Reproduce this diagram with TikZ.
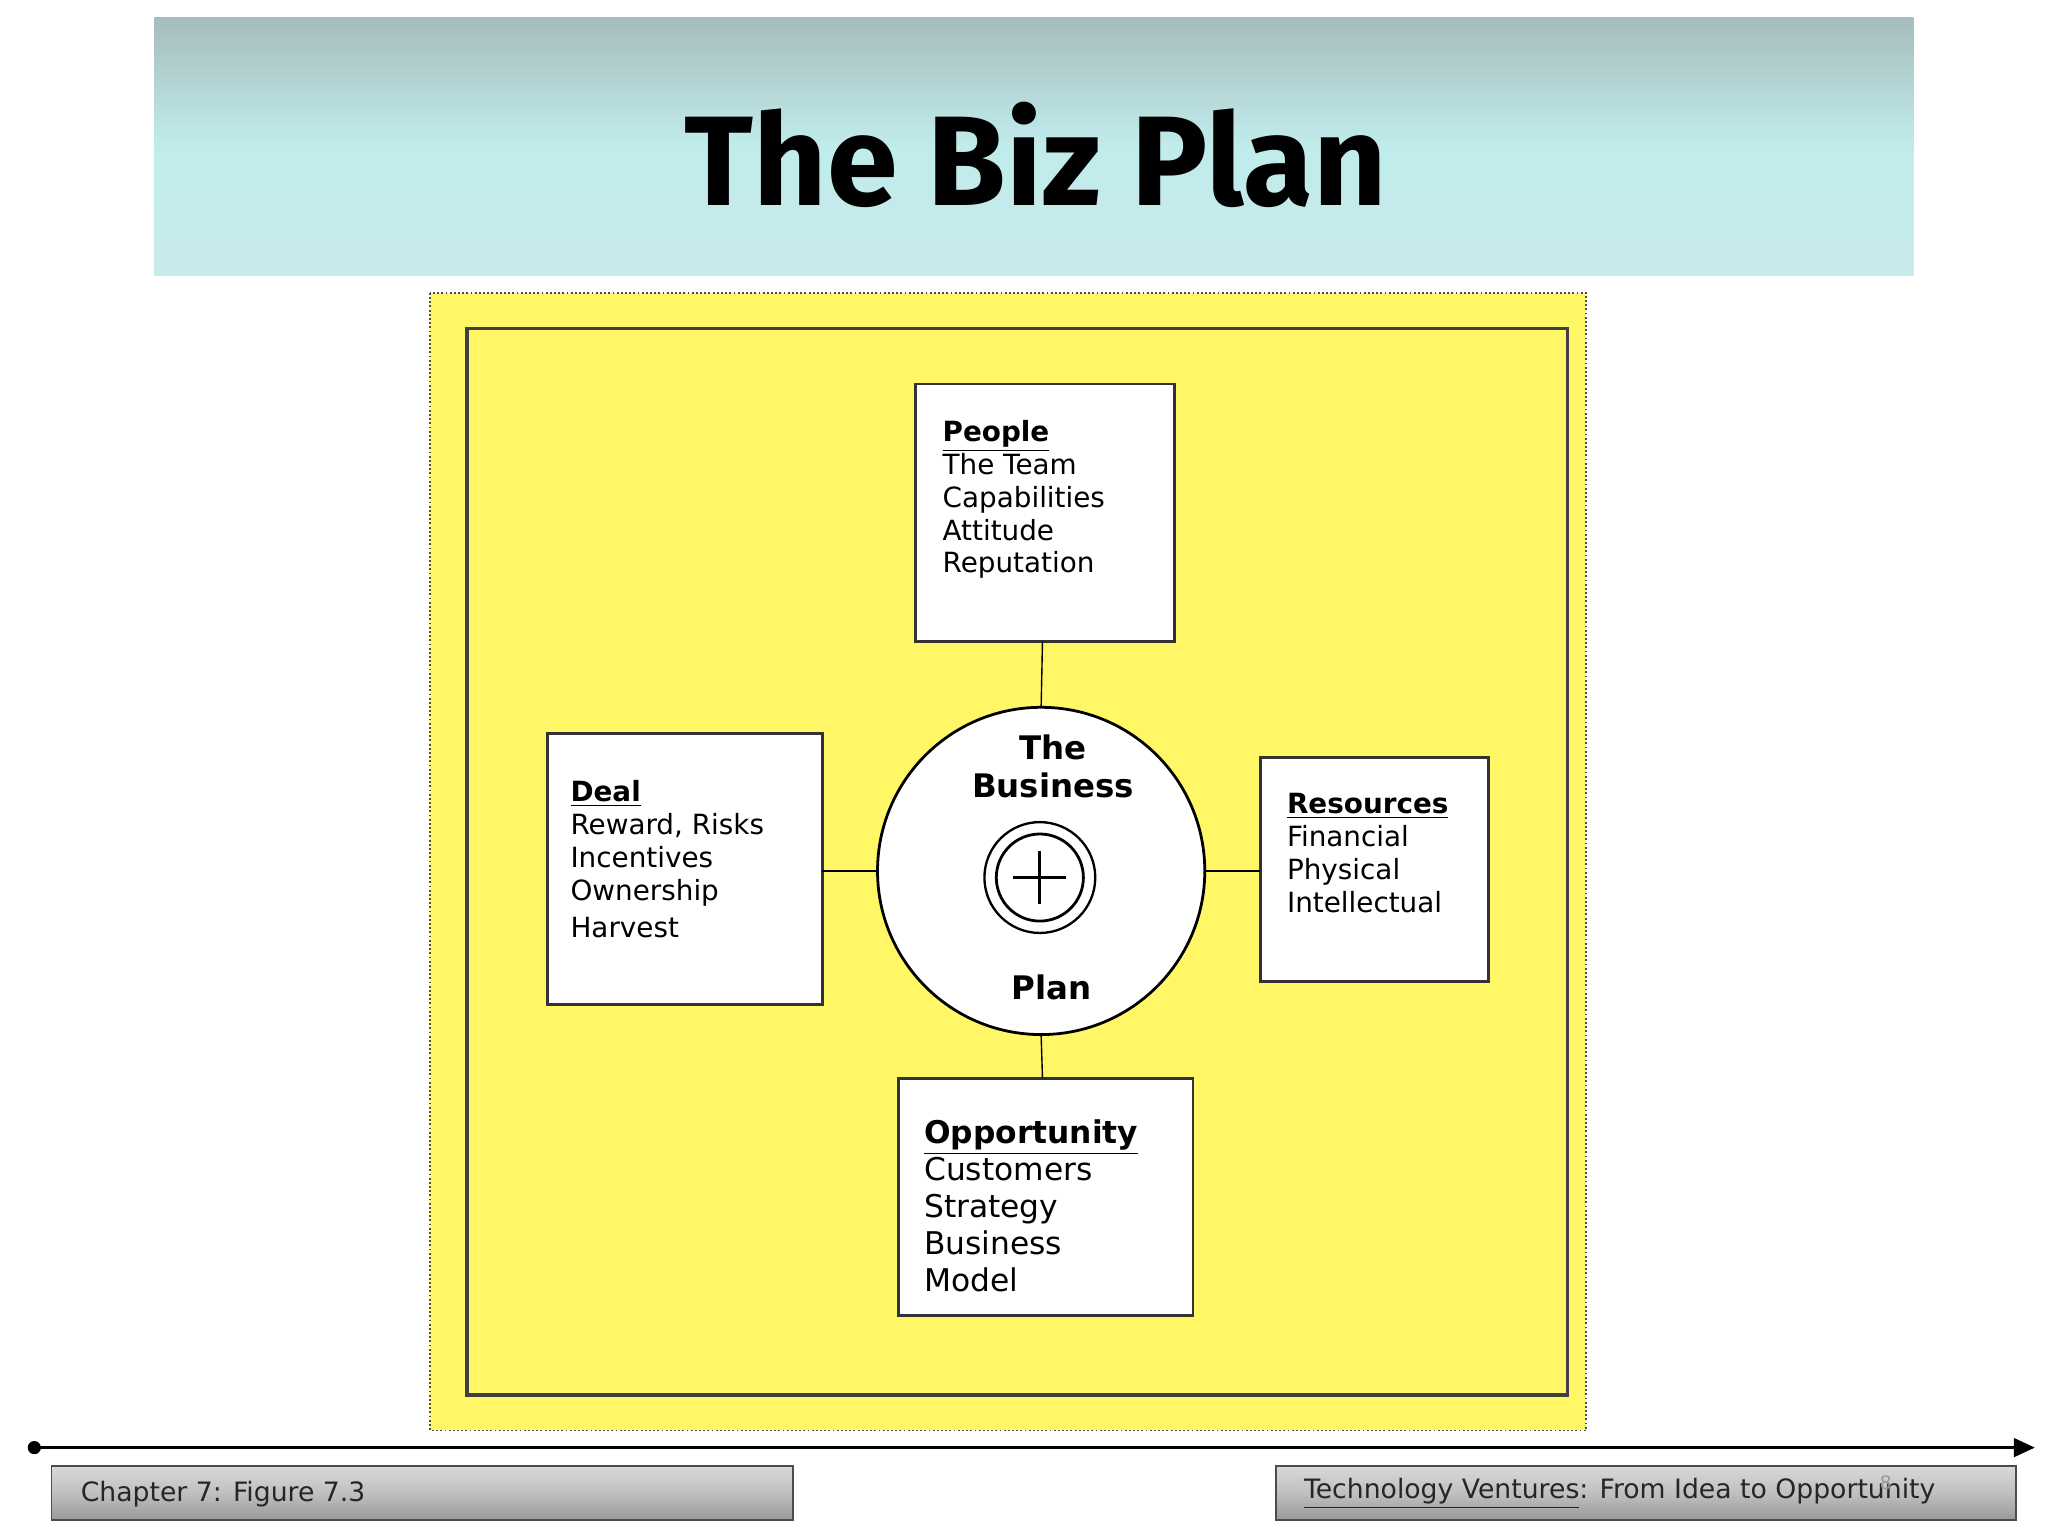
\documentclass[tikz,border=0pt]{standalone}
\usepackage{fontspec}
\setmainfont{DejaVu Sans}
\newfontfamily\titlefont{Fira Sans}
\usetikzlibrary{arrows.meta}
\begin{document}
\begin{tikzpicture}[x=0.02cm,y=-0.02cm,
  box/.style={draw=black!80,line width=1.2pt,fill=white},
  txt/.style={anchor=north west,align=left,font=\fontsize{12}{14.2}\selectfont,inner sep=0pt},
  link/.style={draw=black,line width=0.6pt},
  foot/.style={draw=black!70,line width=0.8pt,top color=black!15,bottom color=black!40,middle color=black!25}]
\useasboundingbox (0,0) rectangle (1552,1164);
\fill[white] (0,0) rectangle (1552,1164);
% header
\shade[top color=black!10!cyan!15!gray!60,bottom color=gray!55!cyan!30,middle color=cyan!20!white!85!gray] (117,13) rectangle (1450,209);
\node[font=\titlefont\bfseries\fontsize{55}{55}\selectfont] (title) at (785,117) {The Biz Plan};
% yellow panel
\fill[yellow!60] (326,222) rectangle (1202,1084);
\draw[densely dotted,black!70,line width=0.8pt] (326,222) rectangle (1202,1084);
\draw[black!75,line width=1.5pt] (354,249) rectangle (1188,1057);
% boxes
\draw[box] (694,291) rectangle (890,486);
\coordinate (pb) at (790,486);
\node[txt] (people) at (714,318) {\textbf{\underline{People}}\\The Team\\Capabilities\\Attitude\\Reputation};
\draw[box] (415,556) rectangle (623,761);
\coordinate (dr) at (623,660);
\node[txt] (deal) at (432,591) {\textbf{\underline{Deal}}\\Reward, Risks\\Incentives\\Ownership\\[2pt]Harvest};
\draw[box] (955,574) rectangle (1128,744);
\coordinate (rl) at (955,660);
\node[txt] (res) at (975,601) {\textbf{\underline{Resources}}\\Financial\\Physical\\Intellectual};
\draw[box] (681,817) rectangle (904,997);
\coordinate (ot) at (790,817);
\node[txt,font=\fontsize{13.5}{16}\selectfont] (opp) at (700,848) {\textbf{\underline{Opportunity}}\\Customers\\Strategy\\Business\\Model};
% circle
\node[circle,draw,line width=1.2pt,fill=white,minimum size=248*0.02cm] (c) at (789,660) {};
\node[font=\bfseries\fontsize{14}{16.5}\selectfont,align=center] (ctop) at (798,581) {The\\Business};
\node[font=\bfseries\fontsize{14}{16}\selectfont] (cbot) at (797,748) {Plan};
\node[circle,draw,line width=1pt,minimum size=84*0.02cm] (o1) at (788,665) {};
\node[circle,draw,line width=1.2pt,minimum size=66*0.02cm] (o2) at (788,665) {};
\draw[line width=1.2pt] (768,665) -- (808,665) (788,645) -- (788,685);
% links
\draw[link] (pb) -- (c.north);
\draw[link] (dr) -- (c.west);
\draw[link] (rl) -- (c.east);
\draw[link] (ot) -- (c.south);
% timeline
\coordinate (tl) at (26,1097);
\coordinate (tr) at (1542,1097);
\fill (tl) circle (5);
\draw[line width=1.2pt,-{Triangle[length=9pt,width=8pt]}] (tl) -- (tr);
% footers
\draw[foot] (39,1111) rectangle (601,1152);
\node[anchor=west,font=\fontsize{11.5}{13}\selectfont,text=black!85] (f1) at (55,1132) {Chapter 7: Figure 7.3};
\draw[foot] (967,1111) rectangle (1528,1152);
\node[anchor=west,font=\fontsize{11.5}{13}\selectfont,text=black!85] (f2) at (982,1132) {\underline{Technology Ventures}: From Idea to Opportunity};
\node[font=\fontsize{8}{9}\selectfont,text=black!40,inner sep=0pt] (pg) at (1429,1124) {8};
\end{tikzpicture}
\end{document}
